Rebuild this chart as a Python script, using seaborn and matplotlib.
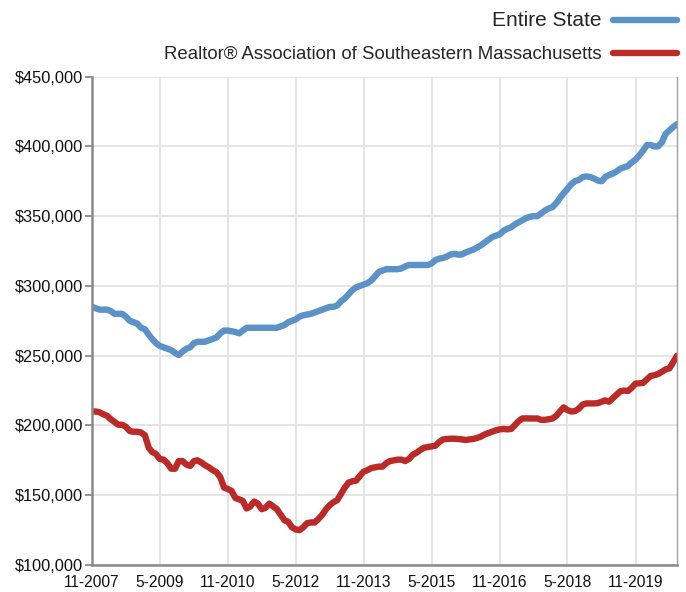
import numpy as np
import pandas as pd
import matplotlib
matplotlib.use("Agg")
import matplotlib.pyplot as plt
import matplotlib.ticker as mticker
import seaborn as sns

# monthly 12-month median sales price, 11-2007 .. 10-2020 (values in $1000)
entire_state = [
    285, 284, 283, 283, 283, 282, 280, 280, 280, 278, 275, 274,          # 11-2007
    273, 270, 269, 265, 262, 259, 257, 256, 255, 254, 252, 250.5,        # 11-2008
    253, 255, 256, 259, 260, 260, 260, 261, 262, 263, 266, 268,          # 11-2009
    268, 267.5, 267, 266, 268, 270, 270, 270, 270, 270, 270, 270,        # 11-2010
    270, 270, 271, 272, 274, 275, 276, 278, 279, 279.5, 280, 281,        # 11-2011
    282, 283, 284, 285, 285, 286, 289, 291, 294, 297, 299, 300,          # 11-2012
    301, 302, 304, 307, 310, 311, 312, 312, 312, 312, 312.5, 314,        # 11-2013
    315, 315, 315, 315, 315, 315, 316, 318.5, 319.5, 320, 321, 322.5,    # 11-2014
    323, 322.5, 322.5, 324, 325, 326, 327.5, 329, 331, 333, 335, 336,    # 11-2015
    337, 339.5, 341, 342, 344, 345.5, 347, 348.5, 349.5, 350, 350, 352,  # 11-2016
    354, 355.5, 356.5, 359.5, 363, 366.5, 369.5, 373, 375, 376, 378, 378.5,  # 11-2017
    378, 377, 375.5, 375, 378, 379.5, 380.5, 382, 384, 385, 386, 388.5,  # 11-2018
    390.5, 393.5, 397, 401, 401, 400, 400, 403, 409, 411.5, 414, 416,    # 11-2019
]
southeastern = [
    210, 210, 209.5, 208, 207, 204.5, 202.5, 200.5, 200.5, 199, 196, 195.5,
    195.5, 195, 193, 184, 181, 179.5, 176, 175.5, 173, 169, 169, 174.5,
    174.5, 172, 171, 174.5, 175, 173.5, 171.5, 170, 168, 166.5, 163, 155.5,
    154.5, 153, 148, 147, 146, 140.5, 142, 145.5, 144, 140, 141, 144,
    142, 140, 136, 132, 131, 127, 125.5, 125, 127, 130, 130.5, 130.5,
    133, 136, 140, 143, 145, 146.5, 151, 155.5, 159, 160, 160.5, 164,
    167, 168, 169.5, 170, 170.5, 170.5, 173, 174.5, 175, 175.5, 175.5, 174.5,
    176, 179, 180.5, 182.5, 184, 184.5, 185, 185.5, 188, 190, 190.3, 190.5,
    190.5, 190.3, 190, 189.6, 190, 190.3, 191, 192, 193.5, 194.5, 195.5, 196.5,
    197.2, 197.5, 197.2, 197.5, 200, 203, 205, 205.1, 205, 205, 205, 204,
    204, 204.5, 205, 207, 210, 213, 211, 210, 210.3, 212, 215, 215.8,
    215.8, 215.8, 216, 217, 218, 217, 219.5, 222, 224.5, 225, 224.7, 227,
    230, 230.2, 230.5, 233, 235.5, 236, 236.9, 238.5, 240.2, 241, 245.5, 250,
]
series_names = ["Entire State", "Realtor® Association of Southeastern Massachusetts"]
months = pd.date_range("2007-11-01", periods=len(entire_state), freq="MS")
tick_labels = ["11-2007", "5-2009", "11-2010", "5-2012", "11-2013",
               "5-2015", "11-2016", "5-2018", "11-2019"]

df = pd.concat([
    pd.DataFrame({"month": months, "price": np.array(entire_state) * 1000, "area": series_names[0]}),
    pd.DataFrame({"month": months, "price": np.array(southeastern) * 1000, "area": series_names[1]}),
])

sns.set_theme(style="white")
plt.rcParams["font.family"] = ["Liberation Sans", "DejaVu Sans"]

fig = plt.figure(figsize=(6.86, 5.92), dpi=100)
ax = fig.add_axes([0.134, 0.0456, 0.853, 0.825])

palette = {series_names[0]: "#5B92C8", series_names[1]: "#BB2A27"}
sns.lineplot(data=df, x="month", y="price", hue="area", palette=palette,
             linewidth=4.6, ax=ax, legend=False, solid_capstyle="round")

ax.set_xlim(months[0], months[-1])
ax.set_ylim(100000, 450000)
ax.set_yticks(np.arange(100000, 450001, 50000))
ax.yaxis.set_major_formatter(mticker.StrMethodFormatter("${x:,.0f}"))
tick_dates = pd.date_range("2007-11-01", periods=len(tick_labels), freq="18MS")
ax.set_xticks(tick_dates)
ax.set_xticklabels(tick_labels)
ax.set_xlabel("")
ax.set_ylabel("")

ax.grid(True, color="#e3e3e3", linewidth=1.3)
ax.set_axisbelow(True)
for side in ["left", "bottom"]:
    ax.spines[side].set_color("#8a8a8a")
    ax.spines[side].set_linewidth(1.8)
ax.spines["right"].set_color("#a0a0a0")
ax.spines["right"].set_linewidth(1.0)
ax.spines["top"].set_visible(False)
ax.tick_params(axis="y", left=True, length=5, width=1.3, color="#8a8a8a",
               labelsize=11.8, labelcolor="#111111", pad=1.5)
ax.tick_params(axis="x", bottom=False, length=0, labelsize=11.2,
               labelcolor="#111111", pad=7.5)

handles = [plt.Line2D([], [], color=palette[n], linewidth=4.6, solid_capstyle="round")
           for n in series_names]
leg = fig.legend(handles, series_names, loc="upper right", bbox_to_anchor=(0.996, 0.992),
                 frameon=False, markerfirst=False, fontsize=13.4,
                 handlelength=3.4, handletextpad=0.65, labelspacing=0.85,
                 borderaxespad=0.0, borderpad=0.35)
leg.get_texts()[0].set_fontsize(15)

fig.savefig("out.png", dpi=100)
